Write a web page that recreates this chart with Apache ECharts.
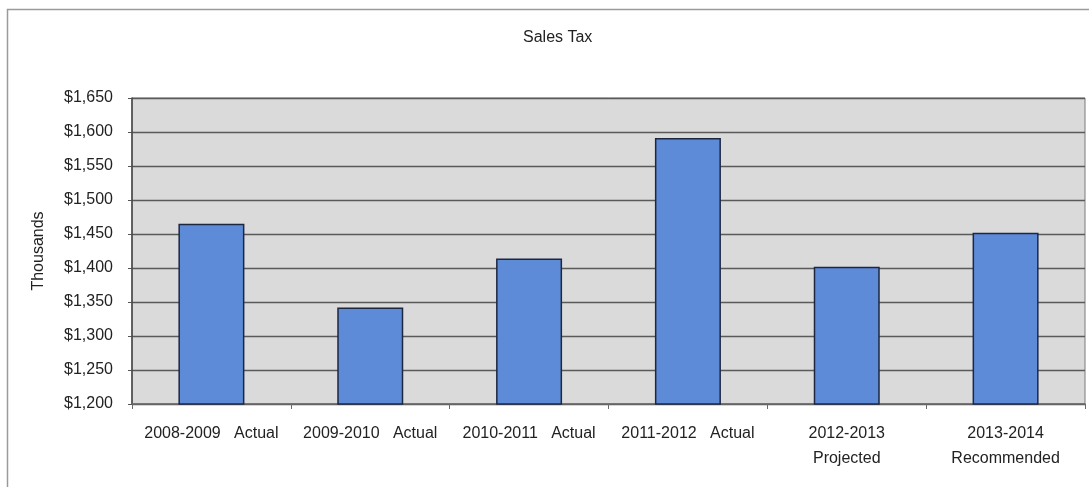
<!DOCTYPE html>
<html>
<head>
<meta charset="utf-8">
<script src="https://cdn.jsdelivr.net/npm/echarts@6/dist/echarts.min.js"></script>
<style>
  html, body { margin: 0; padding: 0; background: #fff; }
  #chart { width: 1089px; height: 487px; }
</style>
</head>
<body>
<div id="chart"></div>
<script>
// Sales tax revenue by fiscal year, in thousands of dollars
const categories = [
  '2008-2009   Actual',
  '2009-2010   Actual',
  '2010-2011   Actual',
  '2011-2012   Actual',
  '2012-2013\nProjected',
  '2013-2014\nRecommended'
];
const salesTax = [1465, 1342, 1414, 1591, 1402, 1452];
const yTicks = { min: 1200, max: 1650, interval: 50 };

const fontFamily = '"Liberation Sans", Arial, sans-serif';
const chart = echarts.init(document.getElementById('chart'));

chart.setOption({
  animation: false,
  backgroundColor: '#ffffff',
  title: {
    text: 'Sales Tax',
    left: 518,
    top: 25,
    textStyle: { fontFamily, fontSize: 16, fontWeight: 'normal', color: '#222' }
  },
  graphic: [{
    type: 'rect',
    shape: { x: 7.5, y: 9.5, width: 1200, height: 600 },
    style: { fill: 'none', stroke: '#9a9a9a', lineWidth: 1.5 },
    z: -1
  }],
  grid: {
    left: 132, right: 4, top: 98, bottom: 83,
    show: true,
    backgroundColor: '#dadada',
    borderColor: '#7a7a7a',
    borderWidth: 1
  },
  xAxis: {
    type: 'category',
    data: categories,
    axisLine: { lineStyle: { color: '#6a6a6a', width: 1.5 } },
    axisTick: { show: true, length: 5, lineStyle: { color: '#6a6a6a' } },
    axisLabel: {
      fontFamily, fontSize: 16, color: '#222',
      margin: 17, lineHeight: 25, interval: 0
    }
  },
  yAxis: {
    type: 'value',
    min: yTicks.min, max: yTicks.max, interval: yTicks.interval,
    name: 'Thousands',
    nameLocation: 'middle',
    nameGap: 85,
    nameRotate: 90,
    nameTextStyle: { fontFamily, fontSize: 16, color: '#222' },
    axisLine: { show: true, lineStyle: { color: '#444', width: 1.5 } },
    axisTick: { show: true, length: 4, lineStyle: { color: '#555' } },
    splitLine: { lineStyle: { color: '#5a5a5a', width: 1.3 } },
    axisLabel: {
      fontFamily, fontSize: 16, color: '#222', margin: 19,
      formatter: v => '$' + v.toLocaleString('en-US')
    }
  },
  series: [{
    type: 'bar',
    data: salesTax,
    barWidth: 66,
    itemStyle: { color: '#5e8bd8', borderColor: '#1d2740', borderWidth: 1.5 }
  }]
});
</script>
</body>
</html>
